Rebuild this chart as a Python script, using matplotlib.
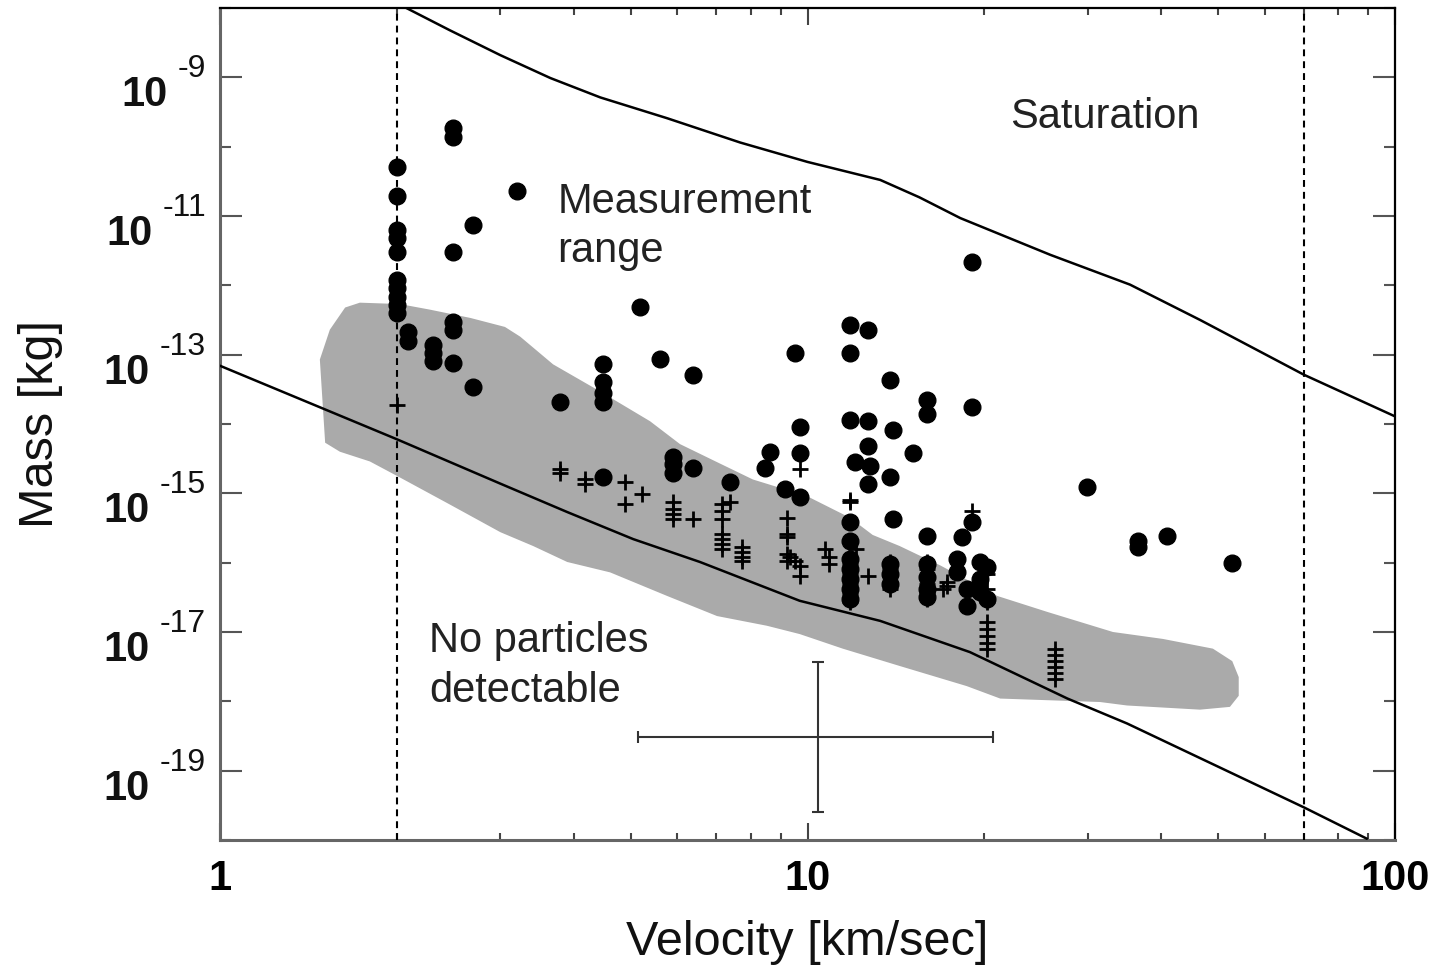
import numpy as np
import matplotlib
matplotlib.use('Agg')
import matplotlib.pyplot as plt
from matplotlib.ticker import FixedLocator, NullFormatter

plt.rcParams['font.family'] = ['Liberation Sans', 'DejaVu Sans']

# ---------------- data ----------------
# detection threshold curve (velocity km/s, log10 mass kg)
thresh_v = [1.0, 2.0, 3.0, 3.90, 5.05, 6.56, 9.7, 13.3, 18.9, 27.7, 35.0, 70.0, 89.5]
thresh_exp = [-13.16, -14.22, -14.86, -15.27, -15.66, -15.99, -16.55, -16.84, -17.29,
              -17.96, -18.32, -19.53, -19.98]

# saturation curve
sat_v = [2.0, 2.46, 3.0, 3.65, 4.44, 5.77, 7.68, 10.0, 13.3, 15.5, 18.2, 25.9, 35.4,
         46.6, 70.0, 100.0]
sat_exp = [-7.93, -8.32, -8.68, -9.01, -9.29, -9.59, -9.94, -10.22, -10.48, -10.73,
           -11.03, -11.56, -11.99, -12.50, -13.29, -13.89]

# velocity limits (dashed)
limit_v = [2.0, 70.0]

# grey calibration region boundary
region_v = [1.479, 1.538, 1.633, 1.730, 2.023, 2.275, 2.667, 3.055, 3.243, 3.690,
            4.436, 5.395, 6.067, 7.015, 8.072, 9.977, 11.80, 12.91, 14.35, 16.83,
            21.04, 25.59, 33.11, 40.27, 48.98, 52.84, 54.20, 54.20, 52.36,
            46.56, 34.99, 31.48, 21.28, 18.66, 14.35, 11.48, 9.70, 8.53, 7.015,
            5.768, 4.613, 3.899, 3.412, 3.0, 2.460, 2.023, 1.799, 1.600, 1.510]
region_exp = [-13.07, -12.64, -12.32, -12.25, -12.27, -12.35, -12.47, -12.60, -12.74, -13.14,
              -13.53, -13.96, -14.29, -14.55, -14.80, -15.04, -15.35, -15.60, -15.76, -16.04,
              -16.48, -16.71, -17.00, -17.10, -17.24, -17.42, -17.65, -17.92, -18.08,
              -18.12, -18.06, -18.01, -17.96, -17.78, -17.49, -17.24, -17.03, -16.91, -16.77,
              -16.48, -16.14, -15.99, -15.76, -15.56, -15.16, -14.77, -14.54, -14.40, -14.27]

# measured particles: filled circles (columns of velocity, log10 masses)
circle_col_v = [2.00, 2.09, 2.30, 2.49, 2.70, 3.20, 3.79, 4.49, 5.19, 5.61, 6.38, 5.90,
                7.38, 8.47, 8.63, 9.16, 9.52, 9.71, 11.8, 12.05, 12.7, 12.8, 13.8, 14.0,
                15.1, 16.0, 18.3, 19.05, 18.0, 18.7, 19.7, 20.2, 29.9, 36.5, 40.9, 52.8]
circle_col_exp = [
    [-10.29, -10.71, -11.20, -11.32, -11.52, -11.92, -12.04, -12.17, -12.28, -12.40],
    [-12.68, -12.80],
    [-12.86, -12.97, -13.09],
    [-9.73, -9.86, -11.52, -12.53, -12.65, -13.12],
    [-11.13, -13.46],
    [-10.64],
    [-13.68],
    [-13.14, -13.40, -13.55, -13.68, -14.76],
    [-12.31],
    [-13.06],
    [-13.29, -14.63],
    [-14.47, -14.58, -14.70],
    [-14.83],
    [-14.63],
    [-14.40],
    [-14.94],
    [-12.97],
    [-14.04, -14.42, -15.06],
    [-12.57, -12.97, -13.94, -15.42, -15.69, -15.95, -16.09, -16.24, -16.38, -16.53],
    [-14.55],
    [-12.64, -13.96, -14.32, -14.87],
    [-14.61],
    [-13.36, -14.76, -16.02, -16.17, -16.31],
    [-14.08, -15.37],
    [-14.42],
    [-13.65, -13.86, -15.62, -16.02, -16.21, -16.38, -16.50],
    [-15.63],
    [-11.66, -13.75, -15.42],
    [-15.95, -16.14],
    [-16.38, -16.63],
    [-15.99, -16.24, -16.42],
    [-16.06, -16.53],
    [-14.91],
    [-15.69, -15.78],
    [-15.62],
    [-16.01],
]

# measured particles: plus markers
plus_col_v = [2.00, 3.79, 4.18, 4.89, 5.23, 5.90, 6.38, 7.15, 7.38, 7.74, 9.23, 9.34,
              9.52, 9.71, 10.7, 10.9, 11.8, 12.1, 12.7, 13.8, 16.0, 17.0, 17.3, 19.05,
              20.2, 26.4]
plus_col_exp = [
    [-13.72],
    [-14.65, -14.71],
    [-14.80, -14.87],
    [-14.84, -15.16],
    [-15.01],
    [-15.12, -15.23, -15.30, -15.37],
    [-15.37],
    [-15.16, -15.26, -15.37, -15.59, -15.66, -15.73, -15.81],
    [-15.12],
    [-15.78, -15.85, -15.92, -15.98],
    [-15.35, -15.59, -15.63, -15.88, -15.98],
    [-15.92],
    [-15.98],
    [-14.65, -16.05, -16.19],
    [-15.81],
    [-15.92, -16.02],
    [-15.09, -15.13, -16.02, -16.17, -16.31, -16.45, -16.57],
    [-15.81],
    [-16.19],
    [-15.99, -16.09, -16.19, -16.28, -16.38],
    [-15.99, -16.09, -16.19, -16.31, -16.42, -16.53],
    [-16.38],
    [-16.28, -16.34],
    [-15.26],
    [-16.17, -16.38, -16.57, -16.86, -16.96, -17.06, -17.16, -17.24],
    [-17.24, -17.33, -17.42, -17.50, -17.59, -17.68],
]

# typical uncertainty cross
err_v = 10.4
err_v_lo, err_v_hi = 5.15, 20.7
err_m = 3.1e-19
err_m_lo, err_m_hi = 2.5e-20, 3.7e-18

x_major = [1, 10, 100]
x_major_labels = ['1', '10', '100']
x_minor = [2, 3, 4, 5, 6, 7, 8, 9, 20, 30, 40, 50, 60, 70, 80, 90]
y_major_exp = [-19, -17, -15, -13, -11, -9]
y_minor_exp = [-20, -18, -16, -14, -12, -10, -8]

# ---------------- plotting ----------------
circ_v = np.concatenate([[v] * len(e) for v, e in zip(circle_col_v, circle_col_exp)])
circ_m = 10.0 ** np.concatenate(circle_col_exp)
plus_v = np.concatenate([[v] * len(e) for v, e in zip(plus_col_v, plus_col_exp)])
plus_m = 10.0 ** np.concatenate(plus_col_exp)

fig = plt.figure(figsize=(14.41, 9.77), dpi=100)
ax = fig.add_axes([220 / 1441, 137 / 977, 1175 / 1441, 832 / 977])
ax.set_xscale('log')
ax.set_yscale('log')

ax.fill(region_v, 10.0 ** np.array(region_exp), color='#aaaaaa', lw=0, zorder=1)
ax.plot(thresh_v, 10.0 ** np.array(thresh_exp), color='black', lw=1.8, zorder=3,
        solid_joinstyle='round')
ax.plot(sat_v, 10.0 ** np.array(sat_exp), color='black', lw=1.8, zorder=3,
        solid_joinstyle='round')
for v in limit_v:
    ax.axvline(v, color='black', lw=1.5, dashes=(3.3, 2.4), zorder=4)

ax.plot(circ_v, circ_m, 'o', ms=12, color='black', mec='black', zorder=5)
ax.plot(plus_v, plus_m, '+', ms=11, mew=2.0, color='black', zorder=5)

ax.errorbar([err_v], [err_m],
            xerr=[[err_v - err_v_lo], [err_v_hi - err_v]],
            yerr=[[err_m - err_m_lo], [err_m_hi - err_m]],
            fmt='none', ecolor='#333333', elinewidth=1.5, capsize=4.5, capthick=1.5,
            zorder=4)

ax.set_xlim(1, 100)
ax.set_ylim(1e-20, 1e-8)

# x ticks
ax.xaxis.set_major_locator(FixedLocator(x_major))
ax.xaxis.set_minor_locator(FixedLocator(x_minor))
ax.set_xticks(x_major, x_major_labels)
ax.xaxis.set_minor_formatter(NullFormatter())
ax.tick_params(axis='x', which='major', direction='in', length=12, width=1.5,
               top=True, labelsize=30, pad=14, color='#444444')
ax.tick_params(axis='x', which='minor', direction='in', length=5, width=1.5,
               top=True, color='#444444')
for lbl in ax.get_xticklabels():
    lbl.set_fontweight('bold')

# y ticks
ax.yaxis.set_major_locator(FixedLocator([10.0 ** e for e in y_major_exp]))
ax.yaxis.set_minor_locator(FixedLocator([10.0 ** e for e in y_minor_exp]))
ax.yaxis.set_major_formatter(NullFormatter())
ax.yaxis.set_minor_formatter(NullFormatter())
ax.tick_params(axis='y', which='major', direction='in', length=16, width=1.5,
               right=True, color='#555555')
ax.tick_params(axis='y', which='minor', direction='in', length=8, width=1.5,
               right=True, color='#555555')

ytrans = ax.get_yaxis_transform()
for e in y_major_exp:
    t = ax.annotate('-%d' % abs(e), xy=(0, 10.0 ** e), xycoords=ytrans,
                    xytext=(-14, 0), textcoords='offset pixels',
                    ha='right', va='baseline', fontsize=23, color='#111111')
    ax.annotate('10', xy=(0, 10.0 ** e), xycoords=(t, ytrans),
                xytext=(-10, -29), textcoords='offset pixels',
                ha='right', va='baseline', fontsize=30, fontweight='bold',
                color='#111111')

# spines
for side in ['left', 'bottom']:
    ax.spines[side].set_color('#666666')
    ax.spines[side].set_linewidth(2.2)
for side in ['top', 'right']:
    ax.spines[side].set_color('black')
    ax.spines[side].set_linewidth(1.6)

ax.set_xlabel('Velocity [km/sec]', fontsize=35, color='#111111')
ax.xaxis.set_label_coords(0.5, -0.096)
ax.set_ylabel('Mass [kg]', fontsize=35, color='#111111')
ax.yaxis.set_label_coords(-0.134, 0.5)

txt_kw = dict(fontsize=30, ha='left', va='baseline', color='#222222', zorder=6)
ax.text(22.1, 10 ** -9.73, 'Saturation', **txt_kw)
ax.text(3.75, 10 ** -10.957, 'Measurement', **txt_kw)
ax.text(3.75, 10 ** -11.66, 'range', **txt_kw)
ax.text(2.27, 10 ** -17.29, 'No particles', **txt_kw)
ax.text(2.27, 10 ** -18.01, 'detectable', **txt_kw)

fig.savefig('out.png', dpi=100)
